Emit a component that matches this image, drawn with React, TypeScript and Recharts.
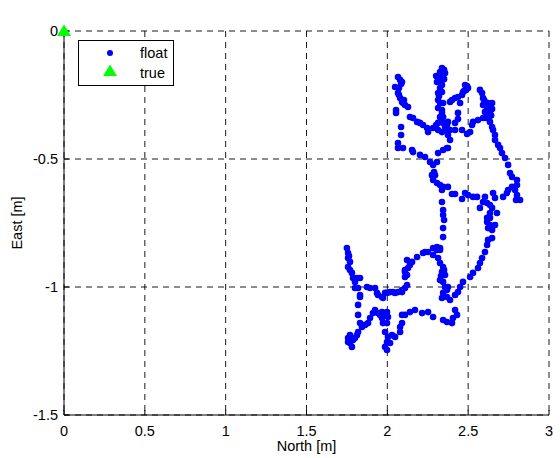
import React from 'react';
import { ScatterChart, Scatter, XAxis, YAxis, CartesianGrid, Legend, Label } from 'recharts';

const FONT = '"Liberation Sans", Arial, Helvetica, sans-serif';
const FS = 14.5;

const chartTitle = '2DRMS(float 4.84855)';
const xLabel = 'North [m]';
const yLabel = 'East [m]';
const xTicks = [0, 0.5, 1, 1.5, 2, 2.5, 3];
const yTicks = [-1.5, -1, -0.5, 0];
const seriesNames = ['float', 'true'];

// "true" position
const truePos: [number, number][] = [[0, 0]];

// float solutions, traced along the trajectory (North, East)
const floatNorthWestArm: [number, number][] = [
  [2.066, -0.18], [2.079, -0.191], [2.091, -0.199], [2.085, -0.207], [2.048, -0.219], [2.072, -0.223],
  [2.066, -0.242], [2.072, -0.25], [2.079, -0.262], [2.103, -0.27], [2.091, -0.277], [2.097, -0.281],
  [2.109, -0.289], [2.128, -0.297], [2.054, -0.309], [2.054, -0.32], [2.14, -0.336], [2.159, -0.34],
  [2.184, -0.355], [2.202, -0.359], [2.221, -0.367], [2.246, -0.379], [2.252, -0.395], [2.085, -0.375],
  [2.085, -0.406], [2.066, -0.438], [2.066, -0.457], [2.097, -0.457], [2.153, -0.465], [2.159, -0.473],
  [2.202, -0.484], [2.233, -0.492], [2.264, -0.512], [2.283, -0.523], [2.307, -0.512], [2.314, -0.477],
  [2.345, -0.465], [2.375, -0.457],
];

const floatCentralColumn: [number, number][] = [
  [2.338, -0.145], [2.351, -0.152], [2.326, -0.16], [2.357, -0.164], [2.345, -0.172], [2.302, -0.176],
  [2.332, -0.18], [2.314, -0.184], [2.351, -0.188], [2.338, -0.191], [2.307, -0.199], [2.338, -0.211],
  [2.326, -0.223], [2.338, -0.238], [2.314, -0.242], [2.32, -0.254], [2.314, -0.27], [2.326, -0.281],
  [2.345, -0.281], [2.314, -0.301], [2.338, -0.309], [2.338, -0.32], [2.326, -0.336], [2.345, -0.336],
  [2.332, -0.348], [2.345, -0.359], [2.314, -0.359], [2.302, -0.367], [2.357, -0.375], [2.283, -0.379],
  [2.314, -0.387], [2.369, -0.387], [2.338, -0.395], [2.375, -0.406], [2.388, -0.426], [2.369, -0.457],
];

const floatCentralRightArm: [number, number][] = [
  [2.481, -0.211], [2.493, -0.215], [2.499, -0.223], [2.487, -0.23], [2.475, -0.234], [2.468, -0.238],
  [2.462, -0.25], [2.437, -0.258], [2.419, -0.262], [2.4, -0.27], [2.388, -0.277], [2.45, -0.281],
  [2.437, -0.32], [2.437, -0.344], [2.419, -0.359], [2.375, -0.355], [2.369, -0.367], [2.388, -0.387],
  [2.419, -0.387], [2.462, -0.387], [2.493, -0.402], [2.512, -0.395],
];

const floatEastLobe: [number, number][] = [
  [2.573, -0.23], [2.586, -0.242], [2.592, -0.262], [2.598, -0.27], [2.604, -0.277], [2.623, -0.281],
  [2.648, -0.281], [2.636, -0.289], [2.592, -0.289], [2.617, -0.297], [2.635, -0.301], [2.648, -0.305],
  [2.623, -0.309], [2.604, -0.316], [2.635, -0.32], [2.617, -0.328], [2.642, -0.33], [2.629, -0.336],
  [2.611, -0.34], [2.592, -0.34], [2.561, -0.348], [2.53, -0.355], [2.635, -0.355], [2.524, -0.367],
  [2.648, -0.375], [2.654, -0.387], [2.666, -0.406], [2.666, -0.426], [2.685, -0.445], [2.697, -0.457],
  [2.709, -0.477], [2.728, -0.496], [2.747, -0.523], [2.759, -0.555], [2.771, -0.57], [2.802, -0.582],
  [2.802, -0.602], [2.771, -0.609], [2.747, -0.621], [2.79, -0.621], [2.802, -0.641], [2.821, -0.66],
  [2.796, -0.66], [2.74, -0.633], [2.716, -0.648],
];

const floatMidBand: [number, number][] = [
  [2.276, -0.563], [2.295, -0.563], [2.289, -0.551], [2.283, -0.582], [2.307, -0.594], [2.326, -0.602],
  [2.345, -0.609], [2.375, -0.609], [2.338, -0.621], [2.4, -0.637], [2.419, -0.637], [2.462, -0.656],
  [2.481, -0.633], [2.499, -0.641], [2.53, -0.648], [2.555, -0.648], [2.604, -0.648], [2.654, -0.633],
  [2.666, -0.652], [2.338, -0.668], [2.345, -0.699], [2.345, -0.719], [2.351, -0.738], [2.345, -0.77],
  [2.345, -0.805],
];

const floatSouthEastArc: [number, number][] = [
  [2.592, -0.668], [2.617, -0.672], [2.635, -0.68], [2.648, -0.691], [2.573, -0.691], [2.678, -0.711],
  [2.635, -0.711], [2.617, -0.73], [2.635, -0.73], [2.617, -0.746], [2.635, -0.758], [2.666, -0.758],
  [2.623, -0.77], [2.648, -0.777], [2.648, -0.809], [2.623, -0.816], [2.617, -0.836], [2.604, -0.863],
  [2.586, -0.887], [2.573, -0.906], [2.561, -0.926], [2.53, -0.945], [2.512, -0.961], [2.468, -0.98],
  [2.45, -1.0], [2.437, -1.02], [2.419, -1.031], [2.388, -1.051], [2.369, -1.039], [2.345, -1.023],
  [2.338, -1.043],
];

const floatSouthCentral: [number, number][] = [
  [2.122, -0.895], [2.14, -0.914], [2.109, -0.934], [2.122, -0.953], [2.184, -0.883], [2.221, -0.867],
  [2.252, -0.863], [2.283, -0.848], [2.307, -0.844], [2.326, -0.848], [2.307, -0.855], [2.326, -0.855],
  [2.283, -0.875], [2.314, -0.887], [2.326, -0.906], [2.345, -0.922], [2.351, -0.934], [2.338, -0.941],
  [2.357, -0.953], [2.332, -0.957], [2.326, -0.973], [2.345, -0.98], [2.357, -1.0], [2.375, -1.0],
  [2.369, -1.012],
];

const floatSouthWestLoop: [number, number][] = [
  [2.419, -1.09], [2.431, -1.109], [2.406, -1.121], [2.4, -1.141], [2.369, -1.137], [2.345, -1.129],
  [2.283, -1.117], [2.252, -1.098], [2.215, -1.102], [2.171, -1.09], [2.14, -1.098], [2.109, -1.109],
  [2.091, -1.109], [2.091, -1.141], [2.079, -1.156], [2.079, -1.176], [2.048, -1.195], [2.029, -1.188],
  [2.017, -1.219], [1.998, -1.246], [1.986, -1.234], [1.998, -1.215], [2.004, -1.195], [1.986, -1.176],
  [1.998, -1.141], [2.004, -1.117], [1.986, -1.109], [1.998, -1.098], [1.967, -1.098], [1.942, -1.102],
  [1.924, -1.09], [1.911, -1.102], [1.893, -1.121], [1.881, -1.141], [1.862, -1.148], [1.843, -1.156],
  [1.819, -1.176], [1.812, -1.188], [1.788, -1.207], [1.757, -1.199], [1.769, -1.219], [1.781, -1.234],
  [1.757, -1.215], [1.769, -1.188], [1.8, -1.199], [1.831, -1.141], [1.819, -1.109], [1.819, -1.07],
  [1.831, -1.039], [1.955, -1.109], [1.967, -1.121], [1.973, -1.141],
];

const floatWestArc: [number, number][] = [
  [1.75, -0.848], [1.757, -0.867], [1.763, -0.879], [1.757, -0.887], [1.769, -0.902], [1.757, -0.922],
  [1.769, -0.934], [1.781, -0.945], [1.788, -0.965], [1.812, -0.965], [1.831, -0.965], [1.8, -0.98],
  [1.819, -1.004], [1.8, -1.004], [1.831, -1.031], [1.874, -1.0], [1.893, -1.004], [1.924, -1.004],
  [1.936, -1.023], [1.942, -1.031], [1.967, -1.039], [1.973, -1.043], [1.986, -1.023], [1.998, -1.023],
  [2.017, -1.02], [2.035, -1.02], [2.048, -1.023], [2.066, -1.02], [2.091, -1.02], [2.091, -1.012],
  [2.109, -1.004], [2.122, -0.992], [2.109, -0.961], [2.109, -0.941], [2.128, -0.926], [2.153, -0.902],
  [2.233, -0.863],
];

const toPoints = (arr: [number, number][]) => arr.map(([x, y]) => ({ x, y }));

const floatData = toPoints([
  ...floatNorthWestArm,
  ...floatCentralColumn,
  ...floatCentralRightArm,
  ...floatEastLobe,
  ...floatMidBand,
  ...floatSouthEastArc,
  ...floatSouthCentral,
  ...floatSouthWestLoop,
  ...floatWestArc,
]);
const trueData = toPoints(truePos);

const BLUE = '#0000ff';
const GREEN = '#00ff00';

const FloatDot = (p: any) => <circle cx={p.cx} cy={p.cy} r={3.3} fill={BLUE} />;
const triPoints = (cx: number, cy: number) => `${cx},${cy - 6.5} ${cx - 7},${cy + 5} ${cx + 7},${cy + 5}`;
const TrueTri = (p: any) => <polygon points={triPoints(p.cx, p.cy)} fill={GREEN} />;
const NoTick = () => <g />;

const tickStyle = { fill: '#000', fontSize: FS, fontFamily: FONT };

const LegendBox = () => (
  <svg width={97} height={47} style={{ display: 'block' }}>
    <rect x={0.5} y={0.5} width={95} height={45} fill="#fff" stroke="#000" strokeWidth={1} />
    <circle cx={32} cy={13} r={3} fill={BLUE} />
    <text x={62} y={18} fontFamily={FONT} fontSize={FS} fill="#000">{seriesNames[0]}</text>
    <polygon points={triPoints(32, 31)} fill={GREEN} />
    <text x={62} y={38} fontFamily={FONT} fontSize={FS} fill="#000">{seriesNames[1]}</text>
  </svg>
);

export default function App() {
  return (
    <div style={{ position: 'absolute', left: 0, top: 0, width: 560, height: 458, background: '#fff' }}>
      <ScatterChart width={560} height={458} margin={{ top: 31, right: 11, bottom: 0, left: 4 }}>
        <XAxis
          xAxisId="b"
          dataKey="x"
          type="number"
          domain={[0, 3]}
          ticks={xTicks}
          height={43}
          tickSize={-5}
          tickMargin={16}
          tick={tickStyle}
          axisLine={{ stroke: '#000' }}
          tickLine={{ stroke: '#000' }}
        >
          <Label value={xLabel} position="insideBottom" offset={7} style={{ fill: '#000', fontSize: FS, fontFamily: FONT }} />
        </XAxis>
        <XAxis
          xAxisId="t"
          orientation="top"
          type="number"
          domain={[0, 3]}
          allowDataOverflow
          ticks={xTicks}
          height={0}
          tickSize={-5}
          tick={NoTick}
          axisLine={{ stroke: '#000' }}
          tickLine={{ stroke: '#000' }}
        >
          <Label value={chartTitle} position="top" offset={14} style={{ fill: '#000', fontSize: FS, fontFamily: FONT }} />
        </XAxis>
        <YAxis
          yAxisId="l"
          dataKey="y"
          type="number"
          domain={[-1.5, 0]}
          ticks={yTicks}
          width={60}
          tickSize={-5}
          tickMargin={11}
          tick={tickStyle}
          axisLine={{ stroke: '#000' }}
          tickLine={{ stroke: '#000' }}
        >
          <Label
            content={() => (
              <text
                x={22}
                y={223}
                transform="rotate(-90 22 223)"
                textAnchor="middle"
                fontFamily={FONT}
                fontSize={FS}
                fill="#000"
              >
                {yLabel}
              </text>
            )}
          />
        </YAxis>
        <YAxis
          yAxisId="r"
          orientation="right"
          type="number"
          domain={[-1.5, 0]}
          allowDataOverflow
          ticks={yTicks}
          width={0}
          tickSize={-5}
          tick={NoTick}
          axisLine={{ stroke: '#000' }}
          tickLine={{ stroke: '#000' }}
        />
        <CartesianGrid xAxisId="b" yAxisId="l" stroke="#000" strokeDasharray="6 5" strokeWidth={0.9} fill="none" />
        <Scatter
          name={seriesNames[0]}
          data={floatData}
          xAxisId="b"
          yAxisId="l"
          shape={FloatDot}
          isAnimationActive={false}
        />
        <Scatter
          name={seriesNames[1]}
          data={trueData}
          xAxisId="b"
          yAxisId="l"
          shape={TrueTri}
          isAnimationActive={false}
        />
        <Legend
          layout="vertical"
          align="center"
          verticalAlign="middle"
          content={() => <LegendBox />}
          wrapperStyle={{ left: 78, top: 40, width: 97, height: 47, margin: 0 }}
        />
      </ScatterChart>
    </div>
  );
}
